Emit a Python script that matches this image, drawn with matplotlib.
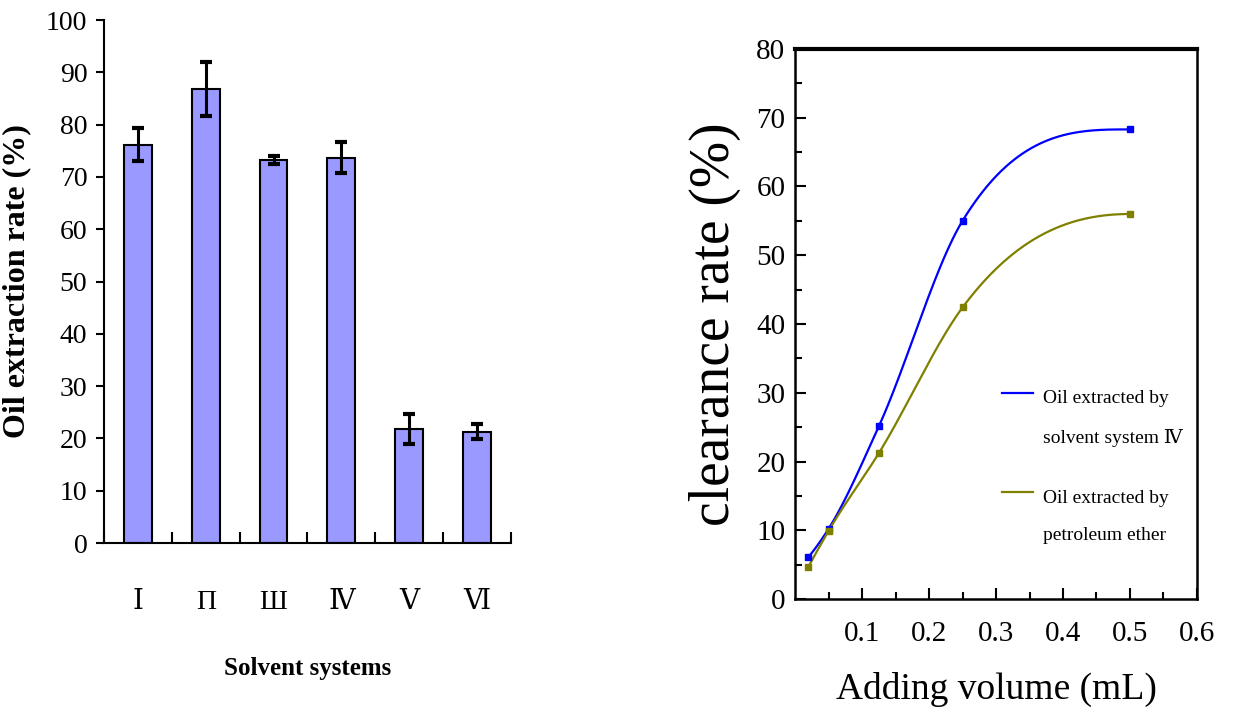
import numpy as np
import matplotlib.pyplot as plt

# left panel: oil extraction rate by solvent system
systems = ["Ⅰ", "Π", "Ш", "Ⅳ", "Ⅴ", "Ⅵ"]
extraction = [76.2, 86.8, 73.2, 73.7, 21.8, 21.3]
extraction_err = [3.2, 5.2, 0.8, 3.0, 2.9, 1.4]

# right panel: clearance rate vs adding volume
volume = [0.02, 0.05, 0.125, 0.25, 0.5]
clear_iv = [6.1, 10.2, 25.1, 55.0, 68.3]
clear_pe = [4.7, 9.9, 21.2, 42.4, 56.0]


def smooth_curve(x, y, xs):
    # monotone cubic hermite curve through the points (only for drawing the line)
    x = np.asarray(x, float)
    y = np.asarray(y, float)
    h = np.diff(x)
    d = np.diff(y) / h
    n = len(x)
    m = np.zeros(n)
    for k in range(1, n - 1):
        if d[k - 1] * d[k] > 0:
            m[k] = (h[k] * d[k - 1] + h[k - 1] * d[k]) / (h[k - 1] + h[k])
            m[k] = min(m[k], 3 * min(d[k - 1], d[k]))
    m0 = ((2 * h[0] + h[1]) * d[0] - h[0] * d[1]) / (h[0] + h[1])
    m[0] = np.clip(m0, 0, 3 * d[0])
    mn = ((2 * h[-1] + h[-2]) * d[-1] - h[-1] * d[-2]) / (h[-1] + h[-2])
    m[-1] = np.clip(mn, 0, 3 * d[-1])
    idx = np.clip(np.searchsorted(x, xs) - 1, 0, n - 2)
    t = (xs - x[idx]) / h[idx]
    h00 = 2 * t**3 - 3 * t**2 + 1
    h10 = t**3 - 2 * t**2 + t
    h01 = -2 * t**3 + 3 * t**2
    h11 = t**3 - t**2
    return h00 * y[idx] + h10 * h[idx] * m[idx] + h01 * y[idx + 1] + h11 * h[idx] * m[idx + 1]


plt.rcParams['font.family'] = ['Liberation Serif', 'DejaVu Serif']

fig = plt.figure(figsize=(12.56, 7.18), dpi=100)

# ---- left bar chart ----
ax1 = fig.add_axes([0.0828, 0.2437, 0.324, 0.7284])
pos = np.arange(len(systems))
ax1.bar(pos, extraction, width=0.41, color='#9999ff', edgecolor='black', linewidth=1.5, zorder=2)
ax1.errorbar(pos, extraction, yerr=extraction_err, fmt='none', ecolor='black',
             elinewidth=2.2, capsize=4.5, capthick=3, zorder=3)
ax1.set_xlim(-0.5, 5.5)
ax1.set_ylim(0, 100)
ax1.set_yticks(np.arange(0, 101, 10))
ax1.set_xticks(np.arange(-0.5, 6, 1))
ax1.set_xticklabels([])
ax1.set_xticks(pos, minor=True)
ax1.set_xticklabels(systems, minor=True, fontsize=20)
ax1.tick_params(axis='x', which='major', direction='in', length=8, width=1.5)
ax1.tick_params(axis='x', which='minor', length=0, pad=34)
ax1.tick_params(axis='y', direction='out', length=6, width=1.5, labelsize=20, pad=6)
for s in ['top', 'right']:
    ax1.spines[s].set_visible(False)
ax1.spines['left'].set_linewidth(1.5)
ax1.spines['bottom'].set_linewidth(1.5)
ax1.set_xlabel("Solvent systems", fontsize=18, fontweight='bold', labelpad=30)
ax1.set_ylabel("Oil extraction rate (%)", fontsize=23, fontweight='bold')
ax1.yaxis.set_label_coords(-0.18, 0.5)

# ---- right line chart ----
ax2 = fig.add_axes([0.633, 0.1657, 0.320, 0.7661])
xs = np.linspace(volume[0], volume[-1], 300)
ax2.plot(xs, smooth_curve(volume, clear_iv, xs), color='#0000ff', lw=1.6,
         label="Oil extracted by\nsolvent system Ⅳ")
ax2.plot(xs, smooth_curve(volume, clear_pe, xs), color='#808000', lw=1.6,
         label="Oil extracted by\npetroleum ether")
ax2.plot(volume, clear_iv, 's', color='#0000ff', ms=5, zorder=4)
ax2.plot(volume, clear_pe, 's', color='#808000', ms=5, zorder=4)
ax2.set_xlim(0, 0.6)
ax2.set_ylim(0, 80)
ax2.set_xticks([0.1, 0.2, 0.3, 0.4, 0.5, 0.6])
ax2.set_xticks(np.arange(0.05, 0.6, 0.1), minor=True)
ax2.set_yticks(np.arange(0, 81, 10))
ax2.set_yticks(np.arange(5, 80, 10), minor=True)
ax2.tick_params(which='major', direction='in', length=8, width=1.5, labelsize=21)
ax2.tick_params(which='minor', direction='in', length=5, width=1.5)
ax2.tick_params(axis='x', pad=16)
ax2.tick_params(axis='y', pad=7)
for s in ['left', 'bottom', 'right']:
    ax2.spines[s].set_linewidth(1.8)
ax2.spines['top'].set_linewidth(3)
ax2.set_xlabel("Adding volume (mL)", fontsize=27, labelpad=18)
ax2.set_ylabel("clearance rate (%)", fontsize=40)
ax2.yaxis.set_label_coords(-0.135, 0.5)
leg = ax2.legend(loc='upper left', bbox_to_anchor=(0.472, 0.411), frameon=False, fontsize=14,
                 handlelength=1.6, handletextpad=0.5, labelspacing=2.2)
for t in leg.get_texts():
    t.set_linespacing(2.55)
# put each legend line sample level with the first line of its label
for hl in leg.legend_handles:
    hl.set_ydata(np.asarray(hl.get_ydata()) + 18)

fig.savefig("out.png", dpi=100)
